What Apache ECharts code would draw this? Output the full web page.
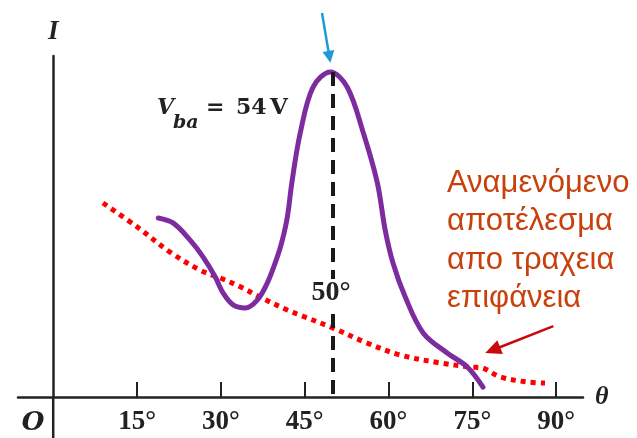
<!DOCTYPE html>
<html>
<head>
<meta charset="utf-8">
<script src="https://cdn.jsdelivr.net/npm/echarts@6/dist/echarts.min.js"></script>
<style>html,body{margin:0;padding:0;background:#fff;}#c{width:637px;height:438px;}</style>
</head>
<body>
<div id="c"></div>
<script>
// ---- data ----
var tickValues = [15, 30, 45, 60, 75, 90];
var measured = [
  [18.8, 52.5], [21.5, 51.0], [24.5, 46.0], [26.8, 41.1], [29.0, 35.2], [30.4, 30.5],
  [32.2, 27.0], [34.4, 26.1], [36.5, 28.4], [38.3, 33.4], [40.1, 41.1], [41.0, 46.0],
  [41.9, 52.8], [42.7, 62.8], [44.2, 77.4], [46.5, 90.9], [49.6, 95.3], [52.6, 90.9],
  [55.5, 77.4], [58.0, 62.8], [59.4, 49.0], [60.8, 39.3], [63.0, 29.3], [66.2, 18.8],
  [70.5, 12.9], [74.1, 8.8], [76.9, 2.9]
];
var expected = [
  [8.9, 56.9], [15.0, 49.9], [20.9, 42.5], [26.3, 37.2], [29.9, 34.9], [33.5, 32.3],
  [37.0, 29.3], [41.9, 25.5], [44.2, 24.0], [50.1, 20.2], [56.2, 15.8], [62.1, 12.3],
  [69.2, 10.0], [74.6, 8.8], [76.8, 8.5], [80.0, 5.9], [84.8, 4.4], [88.0, 4.1]
];
var peakLine = [[50, 95.3], [50, 0]];
var yAxisBelow = [[0, 0, 0, -12.2]];
var blueArrow = [[48.1, 112.6, 49.6, 98.0]];
var redArrow = [[89.5, 20.8, 77.3, 12.9]];
var annotation = ['Αναμενόμενο', 'αποτέλεσμα', 'απο τραχεια', 'επιφάνεια'];

var chart = echarts.init(document.getElementById('c'), null, {renderer: 'canvas'});
var serif = 'Liberation Serif, DejaVu Serif, serif';
var wideSerif = 'DejaVu Serif, Liberation Serif, serif';
var axisColor = '#222';

function arrowRender(color, width, headLen, headW) {
  return function (params, api) {
    var p1 = api.coord([api.value(0), api.value(1)]);
    var p2 = api.coord([api.value(2), api.value(3)]);
    var dx = p2[0] - p1[0], dy = p2[1] - p1[1];
    var L = Math.sqrt(dx * dx + dy * dy) || 1;
    var ux = dx / L, uy = dy / L;
    var bx = p2[0] - ux * headLen, by = p2[1] - uy * headLen;
    var nx = -uy * headW / 2, ny = ux * headW / 2;
    var children = [{
      type: 'line',
      shape: {x1: p1[0], y1: p1[1], x2: headLen ? bx + ux : p2[0], y2: headLen ? by + uy : p2[1]},
      style: {stroke: color, lineWidth: width}
    }];
    if (headLen) {
      children.push({
        type: 'polygon',
        shape: {points: [[p2[0], p2[1]], [bx + nx, by + ny], [bx - nx, by - ny]]},
        style: {fill: color}
      });
    }
    return {type: 'group', children: children};
  };
}

chart.setOption({
  animation: false,
  backgroundColor: '#fff',
  grid: {left: 18, right: 54, top: 56, bottom: 41, containLabel: false, outerBoundsMode: 'none'},
  xAxis: {
    type: 'value', min: -6.3, max: 94.8,
    name: 'θ', nameLocation: 'end', nameGap: 12,
    nameTextStyle: {fontFamily: serif, fontStyle: 'italic', fontWeight: 'bold', fontSize: 26, color: axisColor, verticalAlign: 'middle'},
    axisLine: {onZero: true, lineStyle: {color: axisColor, width: 2.5}},
    axisTick: {show: true, inside: true, length: 15, customValues: tickValues, lineStyle: {color: axisColor, width: 2}},
    axisLabel: {show: true, customValues: tickValues, formatter: '{value}°', margin: 12,
      fontFamily: serif, fontWeight: 'bold', fontSize: 27, color: axisColor},
    splitLine: {show: false}
  },
  yAxis: {
    type: 'value', min: 0, max: 100,
    name: 'I', nameLocation: 'end', nameGap: 10,
    nameTextStyle: {fontFamily: serif, fontStyle: 'italic', fontWeight: 'bold', fontSize: 27, color: axisColor},
    axisLine: {show: true, onZero: true, lineStyle: {color: axisColor, width: 2.5}},
    axisTick: {show: false},
    axisLabel: {show: false},
    splitLine: {show: false}
  },
  series: [
    {
      type: 'line', data: expected, smooth: 0.35, symbol: 'none', z: 3,
      lineStyle: {color: '#ff0000', width: 5, type: [5, 5], cap: 'butt'}
    },
    {
      type: 'line', data: measured, smooth: 0.35, symbol: 'none', z: 4,
      lineStyle: {color: '#7d2c9f', width: 5, cap: 'round', join: 'round'}
    },
    {
      type: 'line', data: [], clip: false, z: 2,
      markLine: {
        silent: true, symbol: ['none', 'none'], label: {show: false},
        data: [[{coord: peakLine[0]}, {coord: peakLine[1]}]],
        lineStyle: {color: '#1a1a1a', width: 4, type: [14, 8]}
      }
    },
    {
      type: 'custom', data: yAxisBelow, clip: false, z: 2, silent: true,
      renderItem: arrowRender(axisColor, 2.5, 0, 0)
    },
    {
      type: 'custom', data: blueArrow, clip: false, z: 5, silent: true,
      renderItem: arrowRender('#1e9ad6', 2.5, 12, 12)
    },
    {
      type: 'custom', data: redArrow, clip: false, z: 5, silent: true,
      renderItem: arrowRender('#c80a0a', 2.5, 16, 15)
    }
  ],
  graphic: [
    {type: 'text', x: 33, y: 423, z: 100, style: {text: 'O', font: 'italic bold 26px ' + wideSerif, fill: axisColor, textAlign: 'center', textVerticalAlign: 'middle'}},
    {type: 'text', x: 331, y: 293, z: 100, style: {text: '50°', font: 'bold 28px ' + serif, fill: axisColor, textAlign: 'center', textVerticalAlign: 'middle', backgroundColor: '#fff', padding: [0, 1]}},
    {type: 'text', x: 157, y: 108, z: 100, style: {text: 'V', font: 'italic bold 22px ' + wideSerif, fill: axisColor, textAlign: 'left', textVerticalAlign: 'middle'}},
    {type: 'text', x: 173, y: 123, z: 100, style: {text: 'ba', font: 'italic bold 19px ' + wideSerif, fill: axisColor, textAlign: 'left', textVerticalAlign: 'middle'}},
    {type: 'text', x: 206, y: 108, z: 100, style: {text: '=', font: 'bold 22px ' + wideSerif, fill: axisColor, textAlign: 'left', textVerticalAlign: 'middle'}},
    {type: 'text', x: 236, y: 108, z: 100, style: {text: '54', font: 'bold 22px ' + wideSerif, fill: axisColor, textAlign: 'left', textVerticalAlign: 'middle'}},
    {type: 'text', x: 270, y: 108, z: 100, style: {text: 'V', font: 'bold 23px ' + wideSerif, fill: axisColor, textAlign: 'left', textVerticalAlign: 'middle'}},
    {type: 'text', x: 447, y: 164, z: 100, style: {text: annotation.join('\n'), font: '31px Liberation Sans, Arial, sans-serif', lineHeight: 38.5, fill: '#c8400c', textAlign: 'left', textVerticalAlign: 'top'}}
  ]
});
</script>
</body>
</html>
